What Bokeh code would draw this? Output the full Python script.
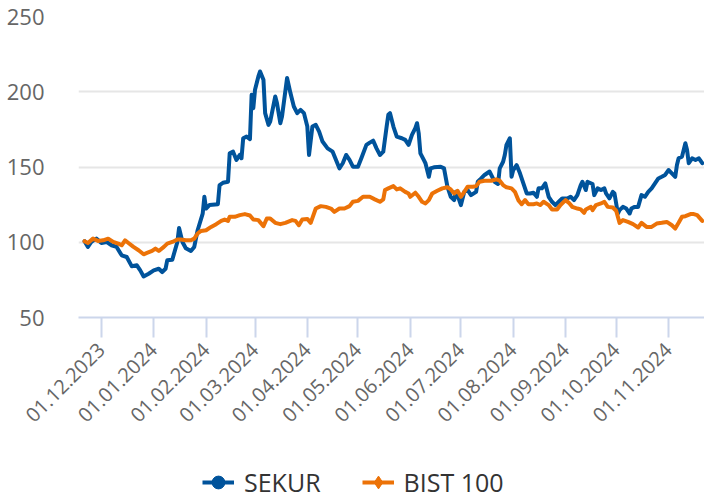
import datetime as dt
from math import pi

from bokeh.plotting import figure
from bokeh.layouts import column
from bokeh.models import (Range1d, FixedTicker, Legend, LegendItem,
                          ColumnDataSource, DatetimeTickFormatter)
from bokeh.embed import file_html
from bokeh.resources import INLINE

# ---------------- data ----------------
sekur_dates = [
    "2023-11-21", "2023-11-23", "2023-11-25", "2023-11-28", "2023-12-01", "2023-12-04", "2023-12-07",
    "2023-12-10", "2023-12-13", "2023-12-16", "2023-12-19", "2023-12-22", "2023-12-24", "2023-12-26",
    "2023-12-29",
    "2024-01-01", "2024-01-04", "2024-01-06", "2024-01-08", "2024-01-09", "2024-01-12", "2024-01-13",
    "2024-01-15", "2024-01-16", "2024-01-18", "2024-01-20", "2024-01-23", "2024-01-25", "2024-01-27",
    "2024-01-30", "2024-01-31",
    "2024-02-01", "2024-02-03", "2024-02-08", "2024-02-09", "2024-02-11", "2024-02-14", "2024-02-15",
    "2024-02-17", "2024-02-19", "2024-02-21", "2024-02-22", "2024-02-23", "2024-02-25", "2024-02-27",
    "2024-02-28", "2024-02-29",
    "2024-03-01", "2024-03-03", "2024-03-04", "2024-03-06", "2024-03-07", "2024-03-09", "2024-03-10",
    "2024-03-13", "2024-03-14", "2024-03-16", "2024-03-17", "2024-03-20", "2024-03-22", "2024-03-24",
    "2024-03-26", "2024-03-28", "2024-03-30",
    "2024-04-01", "2024-04-02", "2024-04-04", "2024-04-06", "2024-04-08", "2024-04-10", "2024-04-13",
    "2024-04-16", "2024-04-18", "2024-04-20", "2024-04-22", "2024-04-24", "2024-04-26", "2024-04-28",
    "2024-05-01", "2024-05-03", "2024-05-06", "2024-05-08", "2024-05-10", "2024-05-12", "2024-05-14",
    "2024-05-16", "2024-05-18", "2024-05-19", "2024-05-20", "2024-05-22", "2024-05-24", "2024-05-27",
    "2024-05-29", "2024-05-31",
    "2024-06-02", "2024-06-04", "2024-06-05", "2024-06-06", "2024-06-07", "2024-06-09", "2024-06-10",
    "2024-06-12", "2024-06-13", "2024-06-15", "2024-06-19", "2024-06-21", "2024-06-23", "2024-06-25",
    "2024-06-27", "2024-06-28", "2024-06-30",
    "2024-07-01", "2024-07-03", "2024-07-05", "2024-07-07", "2024-07-10", "2024-07-11", "2024-07-13",
    "2024-07-15", "2024-07-18", "2024-07-20", "2024-07-21", "2024-07-23", "2024-07-24", "2024-07-26",
    "2024-07-27", "2024-07-28", "2024-07-30", "2024-07-31",
    "2024-08-01", "2024-08-03", "2024-08-05", "2024-08-07", "2024-08-09", "2024-08-11", "2024-08-13",
    "2024-08-15", "2024-08-16", "2024-08-18", "2024-08-20", "2024-08-22", "2024-08-24", "2024-08-26",
    "2024-08-28", "2024-08-30",
    "2024-09-02", "2024-09-04", "2024-09-06", "2024-09-08", "2024-09-10", "2024-09-11", "2024-09-13",
    "2024-09-14", "2024-09-17", "2024-09-18", "2024-09-20", "2024-09-22", "2024-09-24", "2024-09-25",
    "2024-09-27", "2024-09-29", "2024-09-30",
    "2024-10-02", "2024-10-03", "2024-10-05", "2024-10-07", "2024-10-09", "2024-10-10", "2024-10-12",
    "2024-10-14", "2024-10-16", "2024-10-18", "2024-10-20", "2024-10-22", "2024-10-24", "2024-10-26",
    "2024-10-28", "2024-10-30",
    "2024-11-01", "2024-11-03", "2024-11-05", "2024-11-06", "2024-11-07", "2024-11-09", "2024-11-11",
    "2024-11-12", "2024-11-13", "2024-11-15", "2024-11-17", "2024-11-19", "2024-11-21",
]
sekur_values = [
    100.7, 96.9, 100.2, 102.4, 99.5, 100.2, 98.0, 96.9, 91.3, 90.2, 84.0, 84.7, 81.3, 77.3, 79.1,
    81.3, 82.4, 80.2, 82.4, 88.0, 88.4, 92.4, 100.2, 109.5, 100.2, 96.0, 94.2, 96.9, 108.0, 119.0, 130.2,
    122.4, 124.7, 125.3, 138.0, 139.5, 140.2, 159.1, 160.2, 154.7, 158.0, 155.8, 169.1, 170.2, 168.5, 198.0, 189.1,
    201.3, 210.2, 213.5, 208.0, 185.8, 178.0, 180.2, 196.9, 192.5, 179.1, 183.5, 209.1, 199.1, 190.2, 185.8, 188.0, 185.8,
    176.9, 158.0, 176.9, 178.0, 173.5, 166.9, 162.4, 160.2, 154.7, 149.1, 152.5, 158.0, 154.7, 150.2,
    150.2, 155.8, 164.7, 166.2, 167.5, 162.4, 158.0, 160.2, 176.9, 184.7, 185.8, 176.9, 170.2, 169.1, 168.0, 164.7,
    171.3, 175.8, 179.1, 172.4, 159.1, 154.7, 152.5, 143.5, 149.1, 149.8, 150.2, 149.1, 136.9, 130.2, 128.0, 133.5, 128.0,
    124.7, 133.5, 134.7, 131.3, 133.5, 140.2, 142.4, 144.7, 147.0, 142.4, 140.2, 138.7, 149.1, 153.5, 158.0, 164.7, 169.1, 143.5,
    148.0, 151.3, 145.8, 139.1, 132.4, 132.4, 132.9, 130.2, 135.8, 135.8, 139.1, 130.2, 126.9, 124.7, 126.9, 129.1,
    129.1, 130.2, 128.0, 131.3, 138.0, 140.2, 134.7, 140.2, 138.7, 131.3, 135.8, 134.7, 135.8, 132.4, 129.1, 133.5, 132.4,
    119.1, 121.3, 123.5, 122.4, 119.1, 122.4, 123.5, 123.5, 131.3, 130.2, 133.5, 135.8, 139.1, 142.4, 143.5, 144.7,
    148.0, 145.8, 143.5, 151.3, 155.8, 156.9, 165.8, 161.3, 152.5, 155.8, 154.7, 155.8, 152.5,
]

bist_dates = [
    "2023-11-21", "2023-11-23", "2023-11-26", "2023-11-29", "2023-12-02", "2023-12-05", "2023-12-08",
    "2023-12-11", "2023-12-13", "2023-12-15", "2023-12-17", "2023-12-20", "2023-12-23", "2023-12-26",
    "2023-12-28", "2023-12-31",
    "2024-01-02", "2024-01-04", "2024-01-07", "2024-01-09", "2024-01-12", "2024-01-15", "2024-01-17",
    "2024-01-20", "2024-01-23", "2024-01-25", "2024-01-27", "2024-01-29",
    "2024-02-01", "2024-02-04", "2024-02-07", "2024-02-10", "2024-02-12", "2024-02-14", "2024-02-15",
    "2024-02-18", "2024-02-21", "2024-02-24", "2024-02-27", "2024-02-29",
    "2024-03-03", "2024-03-06", "2024-03-08", "2024-03-10", "2024-03-13", "2024-03-16", "2024-03-19",
    "2024-03-23", "2024-03-25", "2024-03-27", "2024-03-29",
    "2024-04-01", "2024-04-03", "2024-04-06", "2024-04-09", "2024-04-12", "2024-04-15", "2024-04-17",
    "2024-04-20", "2024-04-23", "2024-04-26", "2024-04-28",
    "2024-05-01", "2024-05-04", "2024-05-08", "2024-05-11", "2024-05-14", "2024-05-16", "2024-05-17",
    "2024-05-19", "2024-05-22", "2024-05-24", "2024-05-26", "2024-05-29", "2024-05-31",
    "2024-06-01", "2024-06-04", "2024-06-06", "2024-06-08", "2024-06-10", "2024-06-12", "2024-06-14",
    "2024-06-17", "2024-06-20", "2024-06-23", "2024-06-25", "2024-06-27", "2024-06-29",
    "2024-07-01", "2024-07-03", "2024-07-05", "2024-07-08", "2024-07-10", "2024-07-12", "2024-07-15",
    "2024-07-19", "2024-07-22", "2024-07-24", "2024-07-26", "2024-07-28", "2024-07-31",
    "2024-08-02", "2024-08-04", "2024-08-06", "2024-08-08", "2024-08-10", "2024-08-13", "2024-08-15",
    "2024-08-17", "2024-08-19", "2024-08-22", "2024-08-24", "2024-08-27", "2024-08-29",
    "2024-09-01", "2024-09-03", "2024-09-05", "2024-09-08", "2024-09-10", "2024-09-12", "2024-09-13",
    "2024-09-16", "2024-09-17", "2024-09-19", "2024-09-22", "2024-09-24", "2024-09-26", "2024-09-29",
    "2024-10-01", "2024-10-03", "2024-10-05", "2024-10-08", "2024-10-11", "2024-10-14", "2024-10-16",
    "2024-10-19", "2024-10-22", "2024-10-25", "2024-10-28", "2024-10-31",
    "2024-11-03", "2024-11-05", "2024-11-07", "2024-11-09", "2024-11-11", "2024-11-14", "2024-11-16",
    "2024-11-18", "2024-11-21",
]
bist_values = [
    100.7, 99.5, 102.4, 100.9, 101.3, 102.4, 100.2, 99.1, 98.0, 101.3, 99.5, 96.9, 94.7, 92.0, 92.9, 94.2,
    95.8, 94.2, 96.9, 99.1, 100.2, 101.8, 101.8, 101.3, 101.3, 102.4, 105.8, 107.5,
    108.0, 110.2, 112.0, 114.2, 115.1, 114.2, 116.9, 116.9, 118.0, 118.7, 117.8, 115.1,
    114.7, 110.7, 115.8, 115.8, 112.9, 112.0, 112.9, 114.7, 114.2, 111.3, 115.1,
    115.5, 112.9, 122.4, 124.0, 123.5, 122.4, 120.2, 122.4, 122.4, 124.0, 126.9,
    127.5, 130.2, 130.2, 128.5, 126.9, 128.5, 134.7, 135.8, 137.3, 135.1, 135.8, 133.5, 132.4,
    130.2, 132.9, 130.2, 126.9, 125.8, 128.0, 132.4, 134.2, 135.8, 136.5, 135.1, 132.4, 134.2,
    130.2, 133.5, 136.9, 136.9, 137.3, 140.2, 140.9, 140.9, 141.8, 140.9, 138.0, 136.5, 135.8,
    133.5, 128.0, 125.3, 128.0, 125.3, 125.3, 125.8, 124.7, 126.9, 124.7, 121.8, 121.8, 124.7,
    128.0, 126.2, 123.5, 122.4, 121.8, 119.5, 121.8, 123.5, 121.3, 124.7, 125.8, 126.9, 123.5, 123.1,
    120.9, 112.9, 114.7, 113.5, 112.0, 109.8, 112.9, 110.2, 110.2, 112.4, 112.9, 113.5,
    111.3, 109.1, 112.9, 116.9, 117.3, 118.7, 118.7, 118.0, 114.2,
]

series_names = ["SEKUR", "BIST 100"]
series_colors = ["#00539b", "#ec7207"]
series_markers = ["circle", "diamond"]

tick_labels = ["01.12.2023", "01.01.2024", "01.02.2024", "01.03.2024", "01.04.2024", "01.05.2024",
               "01.06.2024", "01.07.2024", "01.08.2024", "01.09.2024", "01.10.2024", "01.11.2024"]
y_ticks = [50, 100, 150, 200, 250]

# ---------------- main figure ----------------
def to_dt(s):
    return dt.datetime.strptime(s, "%Y-%m-%d")

EPOCH = dt.datetime(1970, 1, 1)
tick_ms = [(dt.datetime.strptime(t, "%d.%m.%Y") - EPOCH).total_seconds() * 1000 for t in tick_labels]

x_start = dt.datetime(2023, 11, 17, 10)
x_end = dt.datetime(2024, 11, 22, 8)

p = figure(width=704, height=439, x_axis_type="datetime",
           x_range=Range1d(x_start, x_end), y_range=Range1d(50, 250),
           output_backend="svg", toolbar_location=None,
           min_border_left=78, min_border_right=0, min_border_top=16, min_border_bottom=122)
p.outline_line_color = None
p.background_fill_color = "white"
p.border_fill_color = "white"

p.xgrid.grid_line_color = None
p.ygrid.grid_line_color = "#e6e6e6"
p.ygrid.grid_line_width = 2

p.yaxis.ticker = FixedTicker(ticks=y_ticks)
p.yaxis.axis_line_color = None
p.yaxis.major_tick_line_color = None
p.yaxis.minor_tick_line_color = None
p.yaxis.major_label_text_font = "Open Sans"
p.yaxis.major_label_text_font_size = "22px"
p.yaxis.major_label_text_color = "#666666"
p.yaxis.major_label_standoff = 28

p.xaxis.ticker = FixedTicker(ticks=tick_ms)
fmt = "%d.%m.%Y"
p.xaxis.formatter = DatetimeTickFormatter(microseconds=fmt, milliseconds=fmt, seconds=fmt,
                                          minsec=fmt, minutes=fmt, hourmin=fmt, hours=fmt,
                                          days=fmt, months=fmt, years=fmt)
p.xaxis.major_label_orientation = pi / 4
p.xaxis.major_label_text_font = "Open Sans"
p.xaxis.major_label_text_font_size = "20px"
p.xaxis.major_label_text_color = "#666666"
p.xaxis.axis_line_color = "#ccd6eb"
p.xaxis.axis_line_width = 2
p.xaxis.major_tick_line_color = "#ccd6eb"
p.xaxis.major_tick_line_width = 2
p.xaxis.major_tick_out = 20
p.xaxis.major_tick_in = 0
p.xaxis.minor_tick_line_color = None
p.xaxis.major_label_standoff = 9

for color, dates, vals in zip(series_colors, [sekur_dates, bist_dates], [sekur_values, bist_values]):
    src = ColumnDataSource(dict(x=[to_dt(d) for d in dates], y=vals))
    p.line("x", "y", source=src, line_color=color, line_width=4,
           line_join="round", line_cap="round")

# ---------------- legend strip ----------------
lg = figure(width=704, height=60, x_range=Range1d(0, 1), y_range=Range1d(0, 1),
            output_backend="svg", toolbar_location=None, min_border=0)
lg.axis.visible = False
lg.grid.grid_line_color = None
lg.outline_line_color = None
lg.background_fill_color = "white"
lg.border_fill_color = "white"

# legend glyph proxies: one point placed outside the strip's visible range
items = []
for name, color, mk in zip(series_names, series_colors, series_markers):
    lr = lg.line(x=[-5, -4], y=[-5, -5], line_color=color, line_width=4)
    sr = lg.scatter(x=[-5], y=[-5], marker=mk, size=13, fill_color=color, line_color=color)
    items.append(LegendItem(label=name, renderers=[lr, sr]))

legend = Legend(items=items, orientation="horizontal", location=(124, 0),
                glyph_width=32, glyph_height=32, label_standoff=10, spacing=41,
                padding=0, margin=0, border_line_color=None, background_fill_alpha=0,
                label_text_font="Open Sans", label_text_font_size="25px",
                label_text_color="#333333")
lg.add_layout(legend, "center")

layout = column(p, lg, spacing=0)
open("out.html", "w").write(file_html(layout, INLINE))
